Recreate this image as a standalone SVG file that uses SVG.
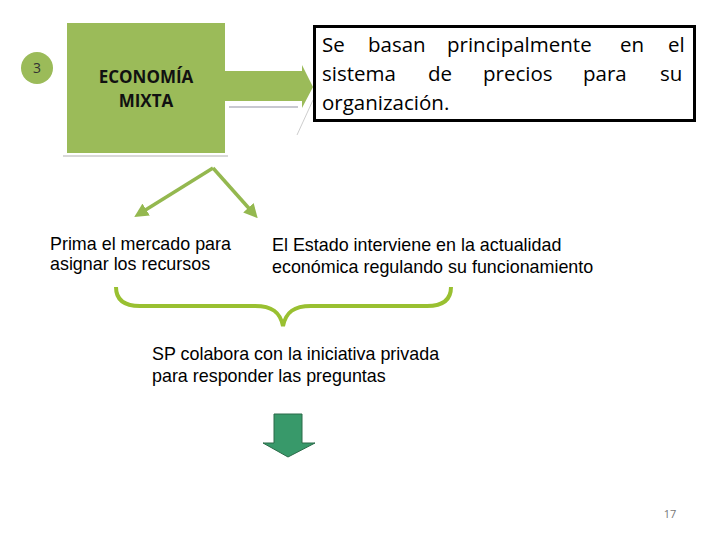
<svg xmlns="http://www.w3.org/2000/svg" width="720" height="540" viewBox="0 0 720 540">
<style>
.t{font-family:"Liberation Sans",Arial,sans-serif;font-size:17.9px;fill:#000}
.c{font-family:"Open Sans","DejaVu Sans",sans-serif;font-size:20.5px;fill:#000}
.g{stroke:#94b84f;stroke-width:3.5;fill:none}
</style>
<defs>
<marker id="ah" viewBox="0 0 10 10" refX="6" refY="5" markerWidth="4" markerHeight="4" orient="auto">
<path d="M0,0 L10,5 L0,10 z" fill="#94b84f"/>
</marker>
</defs>
<rect width="720" height="540" fill="#fff"/>
<g id="badge">
<circle cx="37" cy="68" r="16" fill="#9bbb59"/>
<text x="37" y="73" text-anchor="middle" font-family="'Open Sans',sans-serif" font-size="14" fill="#333">3</text>
</g>
<g id="economia">
<line x1="63" y1="156" x2="228" y2="156" stroke="#d8d8d8" stroke-width="2"/>
<rect x="67" y="23" width="158" height="130" fill="#9bbb59"/>
<text x="146" y="83" text-anchor="middle" font-family="'Open Sans',sans-serif" font-weight="bold" font-size="17" fill="#111">ECONOMÍA</text>
<text x="146" y="107" text-anchor="middle" font-family="'Open Sans',sans-serif" font-weight="bold" font-size="17" fill="#111">MIXTA</text>
</g>
<g id="connectors">
<line x1="229" y1="107" x2="298" y2="107" stroke="#c8c8d0" stroke-width="2"/>
<line x1="313" y1="100" x2="297" y2="135" stroke="#c0c0c0" stroke-width="0.8"/>
<path d="M225,71 L302,71 L302,65 L313,87 L302,108 L302,101 L225,101 z" fill="#9bbb59"/>
<path class="g" d="M213,168 L139,214" marker-end="url(#ah)"/>
<path class="g" d="M213,168 L254,214" marker-end="url(#ah)"/>
<path d="M116,287 C116,300 124,306 140,306 L255,306 C272,306 280,312 283,326 C286,312 294,306 311,306 L427,306 C443,306 451,300 451,287" fill="none" stroke="#99c031" stroke-width="4"/>
<path d="M274,414 L302,414 L302,443 L315,443 L288,457 L263,443 L274,443 z" fill="#38996a" stroke="#2a6a48" stroke-width="1"/>
</g>
<g id="box">
<rect x="314.5" y="26.5" width="380" height="94" fill="#fff" stroke="#000" stroke-width="3"/>
<text class="c" y="52"><tspan x="322">Se</tspan><tspan x="368">basan</tspan><tspan x="447">principalmente</tspan><tspan x="620">en</tspan><tspan x="668">el</tspan></text>
<text class="c" y="81"><tspan x="322">sistema</tspan><tspan x="428">de</tspan><tspan x="483">precios</tspan><tspan x="583">para</tspan><tspan x="660">su</tspan></text>
<text class="c" y="110"><tspan x="322">organización.</tspan></text>
</g>
<g id="prima">
<text class="t" x="50" y="250">Prima el mercado para</text>
<text class="t" x="50" y="270">asignar los recursos</text>
</g>
<g id="estado">
<text class="t" x="272" y="251">El Estado interviene en la actualidad</text>
<text class="t" x="272" y="273">económica regulando su funcionamiento</text>
</g>
<g id="sp">
<text class="t" x="152" y="360">SP colabora con la iniciativa privada</text>
<text class="t" x="152" y="382">para responder las preguntas</text>
</g>
<text x="670" y="518" text-anchor="middle" font-family="'Open Sans',sans-serif" font-size="11" fill="#777">17</text>
</svg>
